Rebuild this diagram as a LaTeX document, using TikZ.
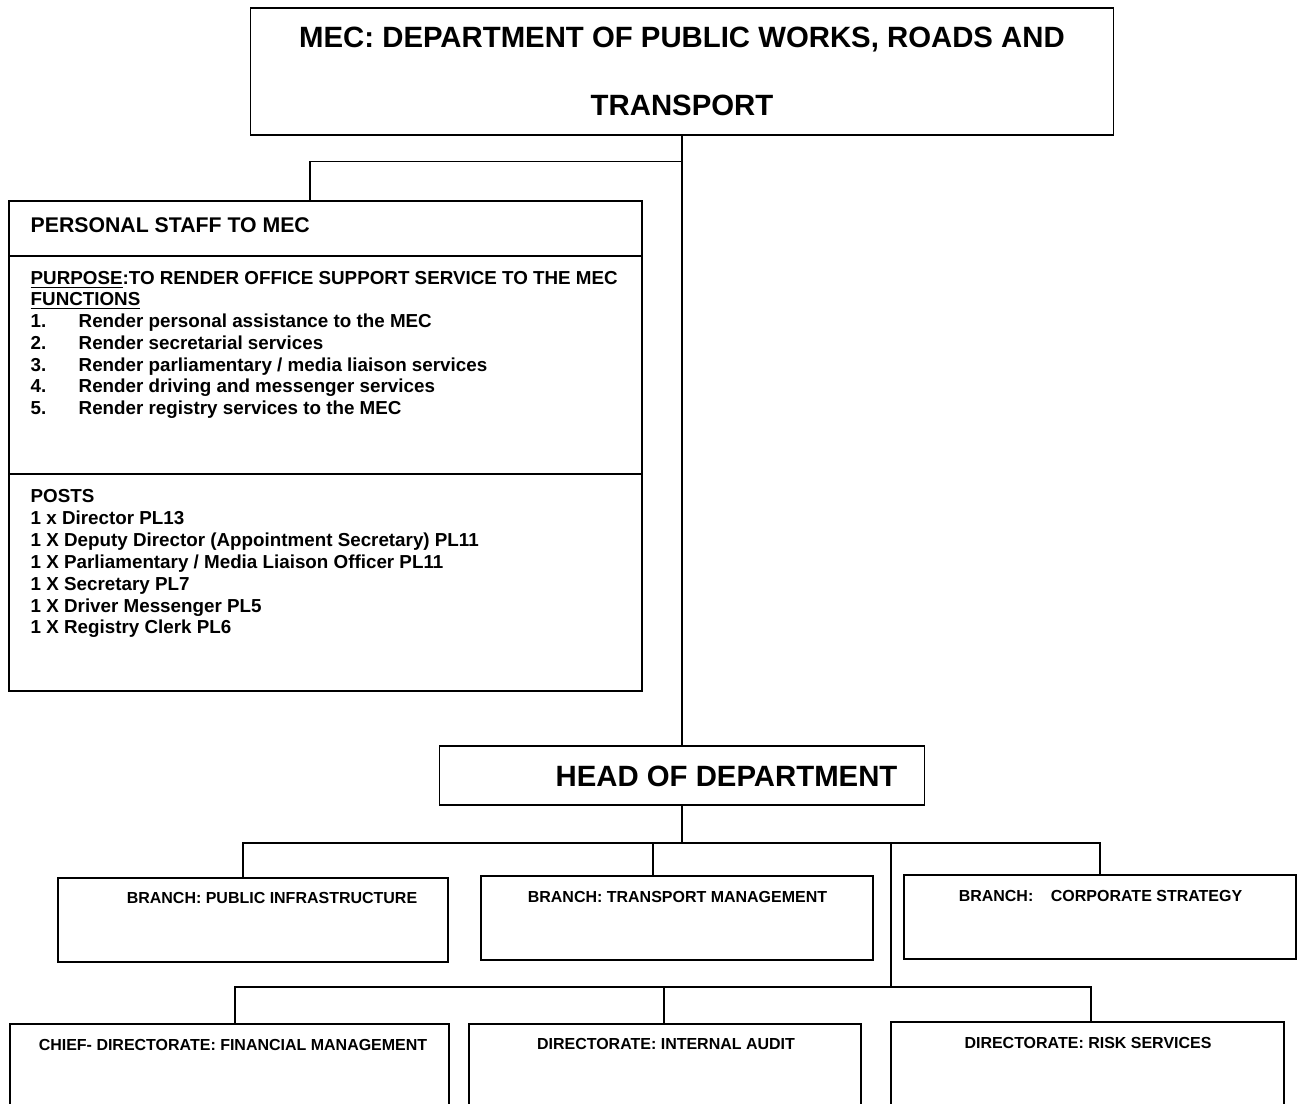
\documentclass[tikz,border=0pt]{standalone}
\usepackage{fontspec}
\setmainfont{Liberation Sans}
\usetikzlibrary{positioning}

\begin{document}
\begin{tikzpicture}[x=0.02cm, y=-0.02cm, line width=0.8pt,
	box/.style={draw, rectangle, inner sep=0pt},
	head/.style={font=\fontsize{16.7}{39}\selectfont\bfseries, align=center},
	body/.style={font=\fontsize{10.7}{12.3}\selectfont\bfseries, inner sep=0pt, anchor=base west},
	unit/.style={font=\fontsize{9.1}{11}\selectfont\bfseries, inner sep=0pt}]
	\clip (0,0) rectangle (1305,1104);
	
	%boxes
	\node[box, head, minimum width=17.26cm, minimum height=2.54cm] (mec) at (682,71.5) {MEC: DEPARTMENT OF PUBLIC WORKS, ROADS AND\\TRANSPORT};
	\node[box, minimum width=12.66cm, minimum height=9.8cm] (pst) at (325.5,446) {};
	\node[box, minimum width=9.7cm, minimum height=1.18cm] (hod) at (682,775.5) {};
	\node[box, minimum width=7.8cm, minimum height=1.68cm] (pi) at (253,920) {};
	\node[box, minimum width=7.84cm, minimum height=1.68cm] (tm) at (677,918) {};
	\node[box, minimum width=7.84cm, minimum height=1.68cm] (cs) at (1100,917) {};
	\node[box, minimum width=8.78cm, minimum height=2cm] (fm) at (229.5,1074) {};
	\node[box, minimum width=7.84cm, minimum height=2cm] (ia) at (665,1074) {};
	\node[box, minimum width=7.86cm, minimum height=2cm] (rs) at (1087.5,1072) {};
	
	%personal staff
	\draw (pst.west |- 0,256) -- (pst.east |- 0,256);
	\draw (pst.west |- 0,474) -- (pst.east |- 0,474);
	\node[body, font=\fontsize{12.1}{14}\selectfont\bfseries] (psttl) at (30,232.5) {PERSONAL STAFF TO MEC};
	\node[body] (purp) at (30,285) {\underline{PURPOSE}:TO RENDER OFFICE SUPPORT SERVICE TO THE MEC};
	\node[body] (func) at (30,306) {\underline{FUNCTIONS}};
	\foreach \txt [count=\i] in {Render personal assistance to the MEC, Render secretarial services, Render parliamentary / media liaison services, Render driving and messenger services, Render registry services to the MEC} {
		\node[body] (num\i) at (30,{306+21.7*\i}) {\i.};
		\node[body] (fn\i) at (78,{306+21.7*\i}) {\txt};
	}
	\node[body] (posts) at (30,503) {POSTS};
	\foreach \txt [count=\i] in {{1 x Director PL13}, {1 X Deputy Director (Appointment Secretary) PL11}, {1 X Parliamentary / Media Liaison Officer PL11}, {1 X Secretary PL7}, {1 X Driver Messenger PL5}, {1 X Registry Clerk PL6}}
		\node[body] (post\i) at (30,{503+21.8*\i}) {\txt};
	
	%labels
	\node[head, inner sep=0pt] (hodtxt) at (726.5,776) {HEAD OF DEPARTMENT};
	\node[unit] (pitxt) at (272,898) {BRANCH: PUBLIC INFRASTRUCTURE};
	\node[unit] (tmtxt) at (677.5,897) {BRANCH: TRANSPORT MANAGEMENT};
	\node[unit] (cstxt) at (1100.5,896) {BRANCH:\hspace{1.1em}CORPORATE STRATEGY};
	\node[unit] (fmtxt) at (233,1045) {CHIEF- DIRECTORATE: FINANCIAL MANAGEMENT};
	\node[unit] (iatxt) at (666,1044) {DIRECTORATE: INTERNAL AUDIT};
	\node[unit] (rstxt) at (1088,1043) {DIRECTORATE: RISK SERVICES};
	
	%connectors
	\coordinate (pstin) at (pst.north -| 310,0);
	\coordinate (tmin) at (tm.north -| 653,0);
	\coordinate (fmin) at (fm.north -| 235,0);
	\coordinate (iain) at (ia.north -| 664,0);
	\coordinate (rsin) at (rs.north -| 1091,0);
	\draw (mec.south) -- (hod.north);
	\draw (mec.south |- pstin) ++(0,-39) -| (pstin);
	\draw (hod.south) -- (hod.south |- 0,843);
	\draw (pi.north -| 243,0) |- (cs.north |- 0,843) -- (cs.north);
	\draw (tmin) -- (tmin |- 0,843);
	\draw (891,843) -- (891,987);
	\draw (fmin) |- (rsin |- 0,987) -- (rsin);
	\draw (iain) -- (iain |- 0,987);
	%\draw[help lines] (0,0) grid (1305,1104);
\end{tikzpicture}
\end{document}
